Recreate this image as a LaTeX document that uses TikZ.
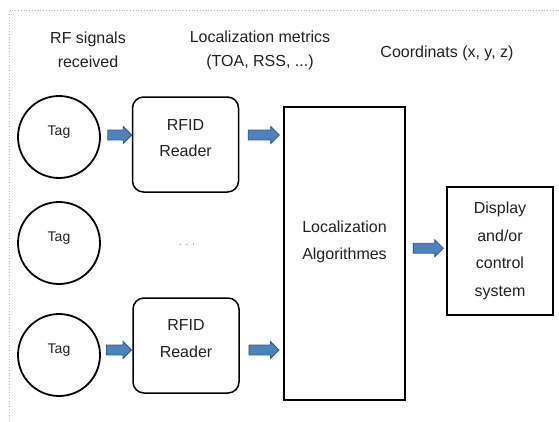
\documentclass[tikz,border=0pt]{standalone}
\usepackage{fontspec}
\setmainfont{Liberation Sans}
\usetikzlibrary{shapes.arrows,calc}
\definecolor{arrowfill}{HTML}{4F81BD}
\definecolor{arrowdraw}{HTML}{2E5A8C}
\definecolor{txtc}{HTML}{202020}
\begin{document}
\begin{tikzpicture}[x=1pt,y=-1pt,
  txt/.style={inner sep=0pt, text=txtc, align=center, font=\fontsize{16}{24}\selectfont},
  tagc/.style={circle, draw=black, line width=1.8pt, minimum size=82pt, inner sep=0pt},
  readerbox/.style={rectangle, rounded corners=11pt, draw=black, line width=1.5pt, minimum width=106pt, minimum height=95pt, inner sep=0pt},
  algbox/.style={rectangle, draw=black, line width=1.5pt, minimum width=121pt, minimum height=293pt, inner sep=0pt},
  dispbox/.style={rectangle, draw=black, line width=2pt, minimum width=106pt, minimum height=128pt, inner sep=0pt},
  blockarrow/.style={single arrow, draw=arrowdraw, fill=arrowfill, line width=0.8pt, minimum width=17pt, inner sep=4.5pt, single arrow head extend=3.5pt, minimum height=26pt}
]
\useasboundingbox (0,0) rectangle (559,421);
\draw[gray!60, dotted, line width=0.8pt] (9,421) -- (9,10) -- (559,10);

% headers
\node[txt] (h1) at (88,50) {RF signals\\received};
\node[txt] (h2) at (260,50) {Localization metrics\\(TOA, RSS, ...)};
\node[txt] (h3) at (447,53) {Coordinats (x, y, z)};

% tags
\node[tagc] (t1) at (59,137) {};
\node[tagc] (t2) at (59,243) {};
\node[tagc] (t3) at (59,355) {};
\node[txt, font=\fontsize{14}{16}\selectfont] (t1l) at ([yshift=5pt]t1.center) {Tag};
\node[txt, font=\fontsize{14}{16}\selectfont] (t2l) at ([yshift=5pt]t2.center) {Tag};
\node[txt, font=\fontsize{14}{16}\selectfont] (t3l) at ([yshift=5pt]t3.center) {Tag};

% readers
\node[readerbox] (r1) at (185.5,144.5) {};
\node[readerbox] (r2) at (186,345.5) {};
\node[txt, font=\fontsize{16}{26}\selectfont] (r1l) at ([yshift=6pt]r1.center) {RFID\\Reader};
\node[txt, font=\fontsize{16}{27}\selectfont] (r2l) at ([yshift=7pt]r2.center) {RFID\\Reader};

\node[txt, text=gray, font=\fontsize{11}{11}\selectfont] (dots) at (187,245) {.\,\,.\,\,.};

% algorithms
\node[algbox] (alg) at (344.5,253.5) {};
\node[txt, font=\fontsize{16}{27}\selectfont] (algl) at ([yshift=12pt]alg.center) {Localization\\Algorithmes};

% display
\node[dispbox] (disp) at (500,251) {};
\node[txt, font=\fontsize{16}{27.7}\selectfont] (displ) at (disp.center) {Display\\and/or\\control\\system};

% arrows
\coordinate (m1) at ($(t1.east)!0.5!(r1.west)$);
\coordinate (m2) at ($(r1.east)!0.5!(alg.west)$);
\coordinate (m3) at ($(t3.east)!0.5!(r2.west)$);
\coordinate (m4) at ($(r2.east)!0.5!(alg.west)$);
\coordinate (m5) at ($(alg.east)!0.5!(disp.west)$);
\node[blockarrow, minimum height=24pt] (a1) at ([xshift=1pt,yshift=2pt]m1 |- t1) {};
\node[blockarrow, minimum height=31pt] (a2) at ([yshift=2pt]m2 |- t1) {};
\node[blockarrow, minimum height=25pt] (a3) at (m3 |- t3l) {};
\node[blockarrow, minimum height=30pt] (a4) at (m4 |- t3l) {};
\node[blockarrow, minimum height=30pt] (a5) at ([yshift=4pt]m5) {};
\end{tikzpicture}
\end{document}
